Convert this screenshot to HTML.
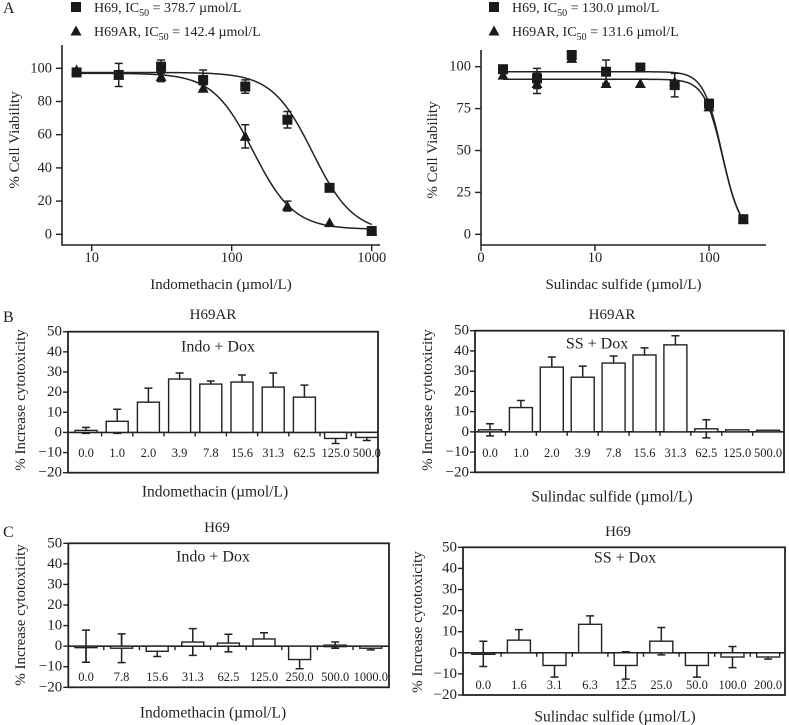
<!DOCTYPE html>
<html><head><meta charset="utf-8"><style>
body{margin:0;background:#fff}
svg{display:block;font-family:"Liberation Serif","DejaVu Serif",serif;fill:#222}
text{fill:#222}
</style></head><body>
<svg id="fig" width="789" height="725" viewBox="0 0 789 725" xmlns="http://www.w3.org/2000/svg">
<text x="3" y="13" font-size="16">A</text>
<text x="3" y="322" font-size="16">B</text>
<text x="3" y="537" font-size="16">C</text>
</svg>
<script>
// ---------- Panel A left data (Indomethacin) ----------
const aLConc = [7.8, 15.6, 31.3, 62.5, 125, 250, 500, 1000];
const aLH69 = [97.5, 96, 101, 93, 89, 69, 28, 2];
const aLH69Err = [0, 7, 4, 6, 4, 5, 0, 0];
const aLAR = [99, 96, 95, 88, 59, 17, 7, 2];
const aLARErr = [0, 0, 3, 2, 7, 3, 0, 0];
const aLH69Fit = [97.5, 1, 378.7, 3.0];   // top, bottom, IC50, hill
const aLARFit = [97, 3, 142.4, 3.0];
const aLXTicks = [10, 100, 1000];
const aLYTicks = [0, 20, 40, 60, 80, 100];
// ---------- Panel A right data (Sulindac sulfide) ----------
const aRConc = [1.56, 3.1, 6.25, 12.5, 25, 50, 100, 200];
const aRH69 = [98.5, 93, 107, 97, 99.5, 89, 78, 9];
const aRH69Err = [0, 6, 0, 7, 0, 7, 0, 2];
const aRAR = [95, 90, 105, 90, 90, 91, 76, 9];
const aRARErr = [0, 6, 0, 0, 0, 0, 0, 0];
const aRH69Fit = [97, 0, 130.0, 5.4];
const aRARFit = [92.5, 0, 131.6, 5.4];
const aRXTicks = [1, 10, 100];
const aRXTickLabels = ["0", "10", "100"];
const aRYTicks = [0, 25, 50, 75, 100];
// ---------- Panel B left ----------
const bLCats = ["0.0","1.0","2.0","3.9","7.8","15.6","31.3","62.5","125.0","500.0"];
const bLVals = [1, 5.5, 15, 26.5, 24, 25, 22.5, 17.5, -3, -2.5];
const bLErr = [1.5, 6, 7, 3, 1.5, 3.5, 7, 6, 2.5, 1.5];
// ---------- Panel B right ----------
const bRCats = ["0.0","1.0","2.0","3.9","7.8","15.6","31.3","62.5","125.0","500.0"];
const bRVals = [1, 12, 32, 27, 34, 38, 43, 1.5, 1, 0.8];
const bRErr = [3, 3.5, 5, 5.5, 3.5, 3.5, 4.5, 4.5, 0, 0];
// ---------- Panel C left ----------
const cLCats = ["0.0","7.8","15.6","31.3","62.5","125.0","250.0","500.0","1000.0"];
const cLVals = [0, -1, -2.5, 2, 1.5, 3.5, -6.5, 0.5, -1];
const cLErr = [7.8, 7, 2.5, 6.5, 4.3, 3, 4.5, 1.5, 0.8];
// ---------- Panel C right ----------
const cRCats = ["0.0","1.6","3.1","6.3","12.5","25.0","50.0","100.0","200.0"];
const cRVals = [-0.5, 6, -6, 13.5, -6, 5.5, -6, -2, -2];
const cRErr = [6, 5, 5.5, 4, 6.5, 6.5, 5.5, 5, 1];
const barYTicks = [50, 40, 30, 20, 10, 0, -10, -20];

const NS = "http://www.w3.org/2000/svg";
const svg = document.getElementById('fig');
function mk(tag, attrs, parent, txt){
  const e = document.createElementNS(NS, tag);
  for (const k in attrs) e.setAttribute(k, attrs[k]);
  if (txt !== undefined) e.textContent = txt;
  (parent || svg).appendChild(e);
  return e;
}
function grp(name){
  const g = document.createElementNS(NS,'g');
  
  
  svg.appendChild(g);
  return g;
}
function lbl(g, x, y, s, size, anchor, name, rot){
  const t = mk('text', {x:x, y:y, 'font-size':size, 'text-anchor':anchor||'middle', 'dominant-baseline':'central'}, g, s);
  if (rot) t.setAttribute('transform', 'rotate(-90 '+x+' '+y+')');
  
  
  return t;
}
function hill(p, x){ return p[1] + (p[0]-p[1])/(1+Math.pow(x/p[2], p[3])); }

function lineChart(o){
  const g = grp(o.name);
  const sx = v => o.x0 + (Math.log10(v) - o.lmin) * o.dec;
  const sy = v => o.y0 - v * o.k;
  mk('path', {d:'M'+o.ax+' '+o.top+' V'+o.base+' H'+o.right, stroke:'#222', 'stroke-width':1.6, fill:'none'}, g);
  o.xt.forEach((v,i)=>{
    const x = sx(v);
    mk('line',{x1:x,y1:o.base,x2:x,y2:o.base+6,stroke:'#222','stroke-width':1.4},g);
    lbl(g, x, o.base+13, o.xtl ? o.xtl[i] : String(v), 14.5, 'middle', 'x-tick-label');
  });
  o.yt.forEach(v=>{
    const y = sy(v);
    mk('line',{x1:o.ax-6,y1:y,x2:o.ax,y2:y,stroke:'#222','stroke-width':1.4},g);
    lbl(g, o.ax-10, y, String(v), 14.5, 'end', 'y-tick-label');
  });
  lbl(g, (o.ax+o.right)/2, o.base+40, o.xtitle, 15, 'middle', 'x-axis-title');
  lbl(g, o.ytx, o.yty, '% Cell Viability', 15, 'middle', 'y-axis-title', true);
  o.series.forEach(s=>{
    let d = '';
    const a = Math.log10(o.conc[0]), b = Math.log10(o.conc[o.conc.length-1]);
    for (let i=0;i<=120;i++){
      const lx = a + (b-a)*i/120, v = hill(s.fit, Math.pow(10,lx));
      d += (i?'L':'M') + sx(Math.pow(10,lx)).toFixed(2) + ' ' + sy(v).toFixed(2);
    }
    const c = mk('path',{d:d,stroke:'#222','stroke-width':1.5,fill:'none'},g);
    
    
    o.conc.forEach((cv,i)=>{
      const x = sx(cv), y = sy(s.vals[i]), e = s.err[i];
      if (e > 0){
        mk('path',{d:'M'+x+' '+sy(s.vals[i]-e)+' V'+sy(s.vals[i]+e)+' M'+(x-4)+' '+sy(s.vals[i]+e)+' h8 M'+(x-4)+' '+sy(s.vals[i]-e)+' h8',stroke:'#222','stroke-width':1.5,fill:'none'},g);
      }
      let m;
      if (s.shape==='sq') m = mk('rect',{x:x-5,y:y-5,width:10,height:10,fill:'#1a1a1a'},g);
      else m = mk('path',{d:'M'+x+' '+(y-5.5)+' L'+(x+5.5)+' '+(y+4.5)+' L'+(x-5.5)+' '+(y+4.5)+' Z',fill:'#1a1a1a'},g);
      
      
    });
  });
  o.legend.forEach((L,i)=>{
    const y = o.ly + i*24;
    if (i===0) mk('rect',{x:o.lx-5,y:y-5,width:10,height:10,fill:'#1a1a1a'},g);
    else mk('path',{d:'M'+o.lx+' '+(y-5.5)+' L'+(o.lx+5.5)+' '+(y+4.5)+' L'+(o.lx-5.5)+' '+(y+4.5)+' Z',fill:'#1a1a1a'},g);
    const t = mk('text',{x:o.lx+18,y:y+5,'font-size':14},g);
    
    
    mk('tspan',{},t,L[0]+', IC');
    mk('tspan',{'font-size':10,dy:4},t,'50');
    mk('tspan',{dy:-4},t,' = '+L[1]+' \u00b5mol/L');
  });
}

lineChart({name:'panel-a-indomethacin', conc:aLConc, x0:91.7, lmin:1, dec:140, y0:234.3, k:1.66,
  ax:62, top:45, base:245, right:380, xt:aLXTicks, yt:aLYTicks, xtitle:'Indomethacin (\u00b5mol/L)', ytx:15, yty:140,
  series:[{key:'h69',shape:'sq',vals:aLH69,err:aLH69Err,fit:aLH69Fit},{key:'h69ar',shape:'tri',vals:aLAR,err:aLARErr,fit:aLARFit}],
  legend:[['H69','378.7'],['H69AR','142.4']], lx:76, ly:7});
lineChart({name:'panel-a-sulindac', conc:aRConc, x0:481, lmin:0, dec:114, y0:234.3, k:1.676,
  ax:481, top:50, base:245, right:766, xt:aRXTicks, xtl:aRXTickLabels, yt:aRYTicks, xtitle:'Sulindac sulfide (\u00b5mol/L)', ytx:433, yty:150,
  series:[{key:'h69',shape:'sq',vals:aRH69,err:aRH69Err,fit:aRH69Fit},{key:'h69ar',shape:'tri',vals:aRAR,err:aRARErr,fit:aRARFit}],
  legend:[['H69','130.0'],['H69AR','131.6']], lx:494, ly:7});

function barChart(o){
  const g = grp(o.name);
  const k = (o.bottom - o.top)/70;
  const sy = v => o.top + (50 - v)*k;
  const cx = i => o.c0 + i*o.sp;
  mk('rect',{x:o.left,y:o.top,width:o.right-o.left,height:o.bottom-o.top,fill:'none',stroke:'#222','stroke-width':1.8},g);
  barYTicks.forEach(v=>{
    const y = sy(v);
    mk('line',{x1:o.left-5,y1:y,x2:o.left,y2:y,stroke:'#222','stroke-width':1.4},g);
    lbl(g, o.left-6, y, v<0 ? '\u2212'+(-v) : String(v), 15, 'end', 'y-tick-label');
  });
  const z = sy(0);
  mk('line',{x1:o.left,y1:z,x2:o.right,y2:z,stroke:'#222','stroke-width':1.6},g);
  o.cats.forEach((c,i)=>{
    if (i>0){ const tx = (cx(i-1)+cx(i))/2; mk('line',{x1:tx,y1:z,x2:tx,y2:z+4,stroke:'#222','stroke-width':1.4},g); }
    const v = o.vals[i], e = o.err[i], x = cx(i);
    if (e>0){
      mk('path',{d:'M'+x+' '+sy(v-e)+' V'+sy(v+e)+' M'+(x-4)+' '+sy(v+e)+' h8 M'+(x-4)+' '+sy(v-e)+' h8',stroke:'#222','stroke-width':1.5,fill:'none'},g);
    }
    const y1 = Math.min(sy(v), z), h = Math.abs(sy(v)-z);
    const b = mk('rect',{x:x-o.bw/2,y:y1,width:o.bw,height:Math.max(h,1.5),fill:'#fff',stroke:'#222','stroke-width':1.4},g);
    
    
    if (e>0 && v>=0 && v-e<0) mk('line',{x1:x,y1:z,x2:x,y2:sy(v-e),stroke:'#222','stroke-width':1.5},g);
    if (e>0 && v<0 && v+e>0) mk('line',{x1:x,y1:z,x2:x,y2:sy(v+e),stroke:'#222','stroke-width':1.5},g);
    lbl(g, x, o.ly, c, 12.5, 'middle', 'x-category-label');
  });
  lbl(g, o.tx, o.ty, o.title, 15, 'middle', 'chart-title');
  lbl(g, o.ix, o.iy, o.inner, 16, 'middle', 'treatment-label');
  lbl(g, o.xtx, o.xty, o.xtitle, 15.5, 'middle', 'x-axis-title');
  lbl(g, o.ytx, o.yty, '% Increase cytotoxicity', 15, 'middle', 'y-axis-title', true);
}

barChart({name:'panel-b-indomethacin', cats:bLCats, vals:bLVals, err:bLErr, left:68, right:378, top:331.7, bottom:472.7,
  c0:86, sp:31.2, bw:22, ly:453, title:'H69AR', tx:213, ty:315, inner:'Indo + Dox', ix:218, iy:347,
  xtitle:'Indomethacin (\u00b5mol/L)', xtx:215, xty:492, ytx:21, yty:400});
barChart({name:'panel-b-sulindac', cats:bRCats, vals:bRVals, err:bRErr, left:475, right:784, top:330.7, bottom:472.3,
  c0:490, sp:30.9, bw:23, ly:453, title:'H69AR', tx:612, ty:315, inner:'SS + Dox', ix:597, iy:344,
  xtitle:'Sulindac sulfide (\u00b5mol/L)', xtx:612, xty:497, ytx:428, yty:400});
barChart({name:'panel-c-indomethacin', cats:cLCats, vals:cLVals, err:cLErr, left:68.3, right:389, top:543.3, bottom:687.3,
  c0:86, sp:35.6, bw:22, ly:677, title:'H69', tx:217, ty:528, inner:'Indo + Dox', ix:213, iy:557,
  xtitle:'Indomethacin (\u00b5mol/L)', xtx:213, xty:713, ytx:21, yty:615});
barChart({name:'panel-c-sulindac', cats:cRCats, vals:cRVals, err:cRErr, left:463, right:785, top:547.3, bottom:695,
  c0:483.3, sp:35.6, bw:23, ly:685, title:'H69', tx:618, ty:532, inner:'SS + Dox', ix:625, iy:558,
  xtitle:'Sulindac sulfide (\u00b5mol/L)', xtx:615, xty:717, ytx:418, yty:622});
</script>
</body></html>
